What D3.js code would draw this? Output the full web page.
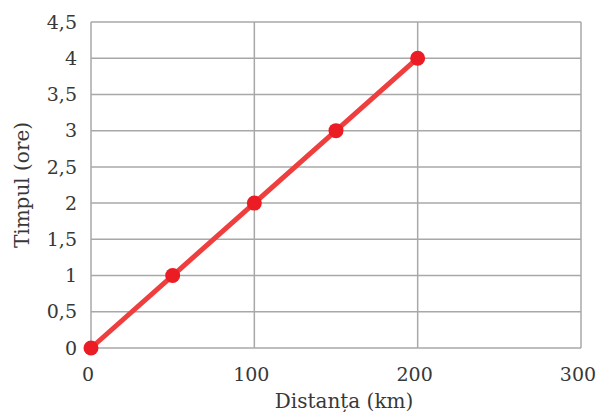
<!DOCTYPE html>
<html>
<head>
<meta charset="utf-8">
<script src="https://cdn.jsdelivr.net/npm/d3@7"></script>
<style>
  body { margin: 0; background: #fff; }
  text { font-family: "DejaVu Serif", "Liberation Serif", serif; fill: #383838; }
</style>
</head>
<body>
<div id="chart"></div>
<script>
var distances = [0, 50, 100, 150, 200];
var hours = [0, 1, 2, 3, 4];
var xTicks = [0, 100, 200, 300];
var yTicks = [0, 0.5, 1, 1.5, 2, 2.5, 3, 3.5, 4, 4.5];
var xTitle = "Distanța (km)";
var yTitle = "Timpul (ore)";

var width = 598, height = 412;
var margin = { top: 22, right: 17, bottom: 64, left: 91 };

var svg = d3.select("#chart").append("svg")
  .attr("width", width)
  .attr("height", height);

var x = d3.scaleLinear().domain([0, 300]).range([margin.left, width - margin.right]);
var y = d3.scaleLinear().domain([0, 4.5]).range([height - margin.bottom, margin.top]);

var fmt = function(d) { return String(d).replace(".", ","); };

// grid
svg.append("g").selectAll("line.h")
  .data(yTicks).enter().append("line")
  .attr("x1", x(0)).attr("x2", x(300))
  .attr("y1", function(d) { return y(d); })
  .attr("y2", function(d) { return y(d); })
  .style("stroke", "#a8a8a8").style("stroke-width", 1.5);

svg.append("g").selectAll("line.v")
  .data(xTicks).enter().append("line")
  .attr("y1", y(0)).attr("y2", y(4.5))
  .attr("x1", function(d) { return x(d); })
  .attr("x2", function(d) { return x(d); })
  .style("stroke", "#a8a8a8").style("stroke-width", 1.5);

// tick labels
svg.append("g").selectAll("text")
  .data(yTicks).enter().append("text")
  .attr("x", 77)
  .attr("y", function(d) { return y(d); })
  .attr("dy", "0.35em")
  .style("text-anchor", "end")
  .style("font-size", "19px")
  .text(fmt);

svg.append("g").selectAll("text")
  .data(xTicks).enter().append("text")
  .attr("x", function(d) { return x(d) - 3; })
  .attr("y", 381)
  .style("text-anchor", "middle")
  .style("font-size", "19px")
  .text(fmt);

// axis titles
svg.append("text")
  .attr("x", 344).attr("y", 408)
  .style("text-anchor", "middle")
  .style("font-size", "20px")
  .text(xTitle);

svg.append("text")
  .attr("transform", "translate(29," + y(2.25) + ") rotate(-90)")
  .style("text-anchor", "middle")
  .style("font-size", "20px")
  .text(yTitle);

// line + points
var data = distances.map(function(d, i) { return { d: d, h: hours[i] }; });

svg.append("path")
  .datum(data)
  .attr("d", d3.line().x(function(p) { return x(p.d); }).y(function(p) { return y(p.h); }))
  .style("fill", "none")
  .style("stroke", "#ef3e3e")
  .style("stroke-width", 5);

svg.append("g").selectAll("circle")
  .data(data).enter().append("circle")
  .attr("cx", function(p) { return x(p.d); })
  .attr("cy", function(p) { return y(p.h); })
  .attr("r", 7.5)
  .style("fill", "#ec1c24");
</script>
</body>
</html>
